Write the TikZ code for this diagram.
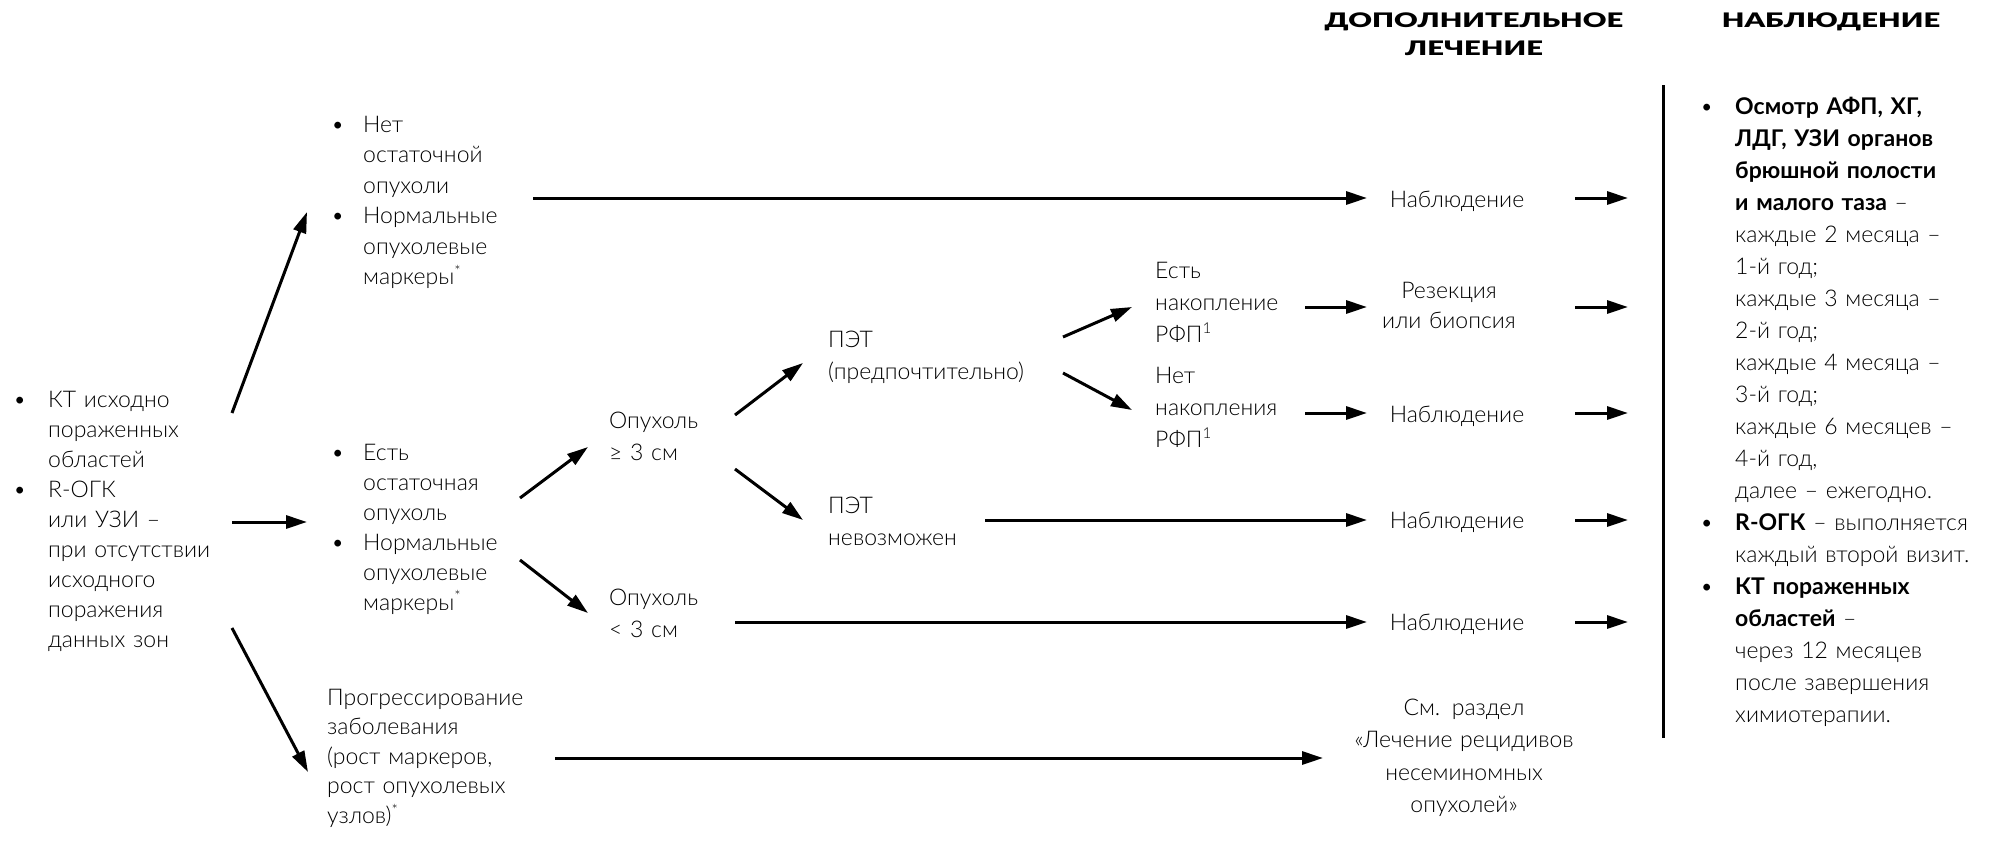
\documentclass[tikz,border=0pt]{standalone}
\usepackage{fontspec}
\setmainfont{Lato}[UprightFont=* Light, BoldFont=* Bold]
\newfontfamily\headfont{Lato Black}
\usetikzlibrary{arrows.meta}
\newcommand\sps[1]{\raisebox{0.7ex}{\fontsize{15}{15}\selectfont #1}}
\newcommand\bitem[2][35pt]{\hangindent=#1\hangafter=1\noindent\makebox[#1][l]{•}#2\par}
\newcommand\hs[1]{\scalebox{1.46}[1]{#1}}
\tikzset{
  txt/.style={anchor=base west, inner sep=0pt, align=left, text width=#1,
              font=\fontsize{23}{31}\selectfont},
  txt/.default=260pt,
  ctr/.style={anchor=base, inner sep=0pt, align=center, text width=#1,
              font=\fontsize{23}{31}\selectfont},
  ctr/.default=300pt,
  head/.style={anchor=base, inner sep=0pt, align=center, text width=400pt,
               font=\headfont\fontsize{20}{28}\selectfont},
  arr/.style={line width=3pt, -{Triangle[length=21pt,width=13pt]}},
}
\begin{document}
\begin{tikzpicture}[x=1pt,y=-1pt]
\useasboundingbox (0,0) rectangle (1991,844);
% headers
\node[head] (h1) at (1474,27) {\hs{ДОПОЛНИТЕЛЬНОЕ}\\\hs{ЛЕЧЕНИЕ}};
\node[head] (h2) at (1831,27) {\hs{НАБЛЮДЕНИЕ}};
% left column
\node[txt=200pt, font=\fontsize{23}{30}\selectfont] (start) at (13,407)
  {\bitem{КТ исходно\newline пораженных\newline областей}
   \bitem{R-ОГК\newline или УЗИ –\newline при отсутствии\newline исходного\newline поражения\newline данных зон}};
% second column
\node[txt, font=\fontsize{23}{30.5}\selectfont] (nores) at (331,132)
  {\bitem[32pt]{Нет\newline остаточной\newline опухоли}
   \bitem[32pt]{Нормальные\newline опухолевые\newline маркеры\sps{*}}};
\node[txt, font=\fontsize{23}{30}\selectfont] (res) at (331,460)
  {\bitem[32pt]{Есть\newline остаточная\newline опухоль}
   \bitem[32pt]{Нормальные\newline опухолевые\newline маркеры\sps{*}}};
\node[txt, font=\fontsize{23}{29.5}\selectfont] (prog) at (327,705)
  {Прогрессирование\newline заболевания\newline (рост маркеров,\newline рост опухолевых\newline узлов)\sps{*}};
% third column
\node[txt=150pt, font=\fontsize{23}{32}\selectfont] (big) at (609,428) {Опухоль\newline ≥ 3 см};
\node[txt=150pt, font=\fontsize{23}{32}\selectfont] (small) at (609,605) {Опухоль\newline < 3 см};
% fourth column
\node[txt=230pt, font=\fontsize{23}{32.5}\selectfont] (pet) at (828,347) {ПЭТ\newline (предпочтительно)};
\node[txt=230pt, font=\fontsize{23}{32}\selectfont] (nopet) at (828,513) {ПЭТ\newline невозможен};
% fifth column
\node[txt=150pt, font=\fontsize{23}{32}\selectfont] (acc) at (1155,278) {Есть\newline накопление\newline РФП\sps{1}};
\node[txt=150pt, font=\fontsize{23}{32}\selectfont] (noacc) at (1155,383) {Нет\newline накопления\newline РФП\sps{1}};
% treatment column
\node[ctr=200pt] (obs1) at (1457,207) {Наблюдение};
\node[ctr=200pt, font=\fontsize{23}{30}\selectfont] (resect) at (1449,298) {Резекция\\или биопсия};
\node[ctr=200pt] (obs2) at (1457,422) {Наблюдение};
\node[ctr=200pt] (obs3) at (1457,528) {Наблюдение};
\node[ctr=200pt] (obs4) at (1457,630) {Наблюдение};
\node[ctr=300pt, font=\fontsize{23}{32.5}\selectfont] (relapse) at (1464,715)
  {См. раздел\\«Лечение рецидивов\\несеминомных\\опухолей»};
% follow-up column
\node[txt=300pt, font=\fontsize{23}{32}\selectfont] (follow) at (1700,114)
  {\bitem{\textbf{Осмотр АФП, ХГ,\newline ЛДГ, УЗИ органов\newline брюшной полости\newline и малого таза} –\newline каждые 2 месяца –\newline 1-й год;\newline каждые 3 месяца –\newline 2-й год;\newline каждые 4 месяца –\newline 3-й год;\newline каждые 6 месяцев –\newline 4-й год,\newline далее – ежегодно.}
   \bitem{\textbf{R-ОГК} – выполняется\newline каждый второй визит.}
   \bitem{\textbf{КТ пораженных\newline областей} –\newline через 12 месяцев\newline после завершения\newline химиотерапии.}};
% connector end points
\coordinate (s-up) at (232,413);   \coordinate (nores-in) at (307,212);
\coordinate (s-mid) at (232,522);  \coordinate (res-in) at (307,522);
\coordinate (s-dn) at (232,628);   \coordinate (prog-in) at (308,772);
\coordinate (nores-out) at (533,198); \coordinate (obs1-in) at (1367,198);
\coordinate (res-up) at (520,498); \coordinate (big-in) at (588,447);
\coordinate (res-dn) at (520,560); \coordinate (small-in) at (588,613);
\coordinate (big-up) at (735,415); \coordinate (pet-in) at (803,363);
\coordinate (big-dn) at (735,469); \coordinate (nopet-in) at (803,520);
\coordinate (nopet-out) at (985,520); \coordinate (obs3-in) at (1367,520);
\coordinate (small-out) at (735,622); \coordinate (obs4-in) at (1367,622);
\coordinate (pet-up) at (1063,337); \coordinate (acc-in) at (1132,307);
\coordinate (pet-dn) at (1063,373); \coordinate (noacc-in) at (1132,410);
\coordinate (acc-out) at (1305,307); \coordinate (resect-in) at (1367,307);
\coordinate (noacc-out) at (1305,413); \coordinate (obs2-in) at (1367,413);
\coordinate (prog-out) at (555,758); \coordinate (relapse-in) at (1323,758);
\foreach \y/\n in {198/1,307/2,413/3,520/4,622/5}{
  \coordinate (f\n-a) at (1575,\y); \coordinate (f\n-b) at (1628,\y);
}
\coordinate (bar-top) at (1663,85); \coordinate (bar-bot) at (1663,738);
% connectors
\draw[arr] (s-up) -- (nores-in);
\draw[arr] (s-mid) -- (res-in);
\draw[arr] (s-dn) -- (prog-in);
\draw[arr] (nores-out) -- (obs1-in);
\draw[arr] (res-up) -- (big-in);
\draw[arr] (res-dn) -- (small-in);
\draw[arr] (big-up) -- (pet-in);
\draw[arr] (big-dn) -- (nopet-in);
\draw[arr] (nopet-out) -- (obs3-in);
\draw[arr] (small-out) -- (obs4-in);
\draw[arr] (pet-up) -- (acc-in);
\draw[arr] (pet-dn) -- (noacc-in);
\draw[arr] (acc-out) -- (resect-in);
\draw[arr] (noacc-out) -- (obs2-in);
\draw[arr] (prog-out) -- (relapse-in);
\foreach \n in {1,...,5}{ \draw[arr] (f\n-a) -- (f\n-b); }
\draw[line width=3pt] (bar-top) -- (bar-bot);
\end{tikzpicture}
\end{document}
